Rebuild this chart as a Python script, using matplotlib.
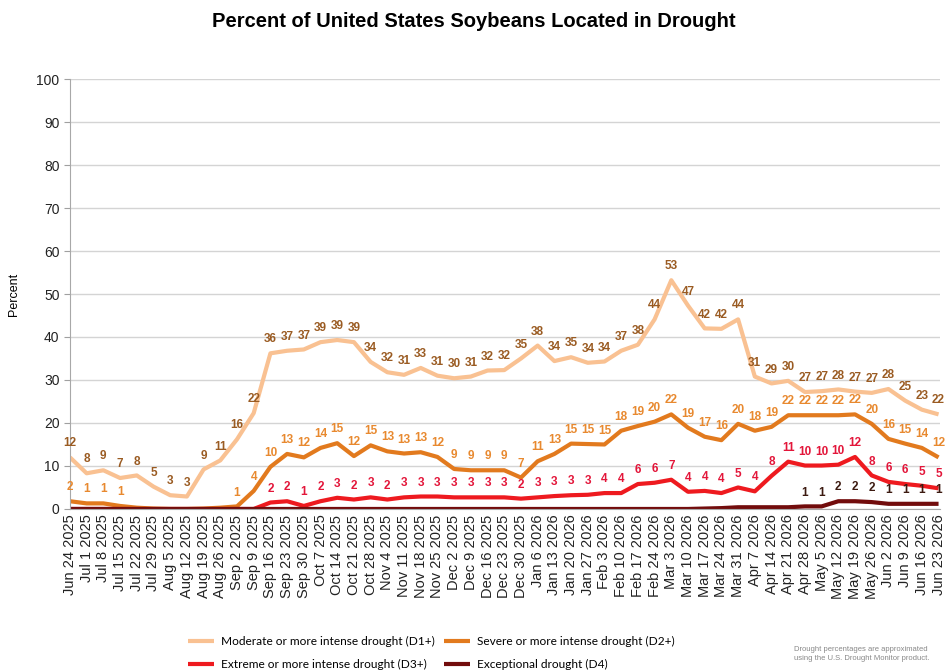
import matplotlib.pyplot as plt
import numpy as np

# weekly dates
dates = ["Jun 24 2025", "Jul 1 2025", "Jul 8 2025", "Jul 15 2025", "Jul 22 2025",
         "Jul 29 2025", "Aug 5 2025", "Aug 12 2025", "Aug 19 2025", "Aug 26 2025",
         "Sep 2 2025", "Sep 9 2025", "Sep 16 2025", "Sep 23 2025", "Sep 30 2025",
         "Oct 7 2025", "Oct 14 2025", "Oct 21 2025", "Oct 28 2025", "Nov 4 2025",
         "Nov 11 2025", "Nov 18 2025", "Nov 25 2025", "Dec 2 2025", "Dec 9 2025",
         "Dec 16 2025", "Dec 23 2025", "Dec 30 2025", "Jan 6 2026", "Jan 13 2026",
         "Jan 20 2026", "Jan 27 2026", "Feb 3 2026", "Feb 10 2026", "Feb 17 2026",
         "Feb 24 2026", "Mar 3 2026", "Mar 10 2026", "Mar 17 2026", "Mar 24 2026",
         "Mar 31 2026", "Apr 7 2026", "Apr 14 2026", "Apr 21 2026", "Apr 28 2026",
         "May 5 2026", "May 12 2026", "May 19 2026", "May 26 2026", "Jun 2 2026",
         "Jun 9 2026", "Jun 16 2026", "Jun 23 2026"]

d1 = [12, 8.3, 9, 7.2, 7.8, 5.2, 3.2, 2.9, 9.2, 11.3, 16.2, 22.3, 36.2, 36.8,
      37.1, 38.8, 39.3, 38.8, 34.2, 31.8, 31.2, 32.8, 31.0, 30.4, 30.8, 32.2,
      32.3, 35.0, 38.0, 34.4, 35.3, 34.0, 34.3, 36.8, 38.2, 44.1, 53.2, 47.3,
      42.0, 41.9, 44.1, 30.8, 29.2, 29.8, 27.2, 27.4, 27.8, 27.3, 27.0, 27.9,
      25.2, 23.1, 22.0]
d2 = [1.8, 1.3, 1.3, 0.7, 0.3, 0.1, 0, 0, 0.1, 0.3, 0.6, 4.2, 9.8, 12.8, 12.0,
      14.2, 15.3, 12.3, 14.8, 13.4, 12.9, 13.2, 12.1, 9.3, 9.0, 9.0, 9.0, 7.3,
      11.1, 12.8, 15.2, 15.1, 15.0, 18.2, 19.3, 20.3, 22.0, 18.9, 16.8, 16.0,
      19.8, 18.2, 19.1, 21.8, 21.8, 21.8, 21.8, 22.0, 19.8, 16.3, 15.2, 14.2, 12.0]
d3 = [0] * 12 + [1.5, 1.8, 0.7, 1.8, 2.6, 2.2, 2.7, 2.2, 2.7, 2.9, 2.9, 2.7, 2.7,
                 2.7, 2.7, 2.4, 2.7, 3.0, 3.2, 3.3, 3.7, 3.7, 5.8, 6.1, 6.8, 4.0,
                 4.2, 3.7, 5.0, 4.1, 7.7, 11.0, 10.1, 10.1, 10.3, 12.1, 7.8, 6.3,
                 5.8, 5.4, 4.8]
d4 = [0] * 38 + [0.1, 0.2, 0.4, 0.4, 0.4, 0.4, 0.6, 0.6, 1.8, 1.8, 1.6, 1.2,
                 1.2, 1.2, 1.2]

series_names = ["Moderate or more intense drought (D1+)",
                "Severe or more intense drought (D2+)",
                "Extreme or more intense drought (D3+)",
                "Exceptional drought (D4)"]
line_colors = ["#F9C192", "#E27A1E", "#EE1A1F", "#720C0C"]
label_colors = ["#9A5B22", "#E8892F", "#E3163A", "#3C1A10"]

plt.rcParams["font.family"] = ["Liberation Sans", "DejaVu Sans"]

fig = plt.figure(figsize=(9.48, 6.72), dpi=100)
ax = fig.add_axes([0.0738, 0.2426, 0.918, 0.6398])

x = np.arange(len(dates))
handles = []
for vals, name, lc, tc in zip([d1, d2, d3, d4], series_names, line_colors, label_colors):
    h, = ax.plot(x, vals, color=lc, linewidth=3, label=name, solid_capstyle="butt")
    handles.append(h)
    for xi, v in zip(x, vals):
        lab = int(v + 0.5)
        if lab >= 1:
            ax.annotate(str(lab), (xi, v), xytext=(0, 10), textcoords="offset points",
                        ha="center", va="center", fontsize=8.5, fontweight="bold",
                        color=tc)

ax.set_xlim(0, 52.1)
ax.set_ylim(0, 100)
ax.set_yticks(range(0, 101, 10))
ax.set_xticks(x)
ax.set_xticklabels(dates, rotation=90, fontsize=10.5, color="#222222")
ax.tick_params(axis="y", labelsize=10, length=4, color="#A0A0A0", colors="#222222")
ax.tick_params(axis="x", length=0, pad=4)
ax.grid(axis="y", color="#D4D4D4", linewidth=1)
ax.set_axisbelow(True)
for s in ["top", "right"]:
    ax.spines[s].set_visible(False)
ax.spines["left"].set_color("#A8A8A8")
ax.spines["bottom"].set_color("#A8A8A8")
ax.set_ylabel("Percent", fontsize=9, labelpad=12)

fig.suptitle("Percent of United States Soybeans Located in Drought",
             x=0.5, y=0.982, fontsize=14.5, fontweight="bold")

# legend rows: D1, D2 on top; D3, D4 below
order = [0, 2, 1, 3]
fig.legend(handles=[handles[i] for i in order], loc="upper left",
           bbox_to_anchor=(0.187, 0.069), ncol=2, frameon=False,
           handlelength=2.2, columnspacing=0.8, handletextpad=0.55,
           labelspacing=0.95, prop={"family": "Lato", "size": 8.6})

fig.text(0.838, 0.027, "Drought percentages are approximated\nusing the U.S. Drought Monitor product.",
         fontsize=5.5, color="#888888", va="center", ha="left", linespacing=1.5)

fig.savefig("out.png", dpi=100)
